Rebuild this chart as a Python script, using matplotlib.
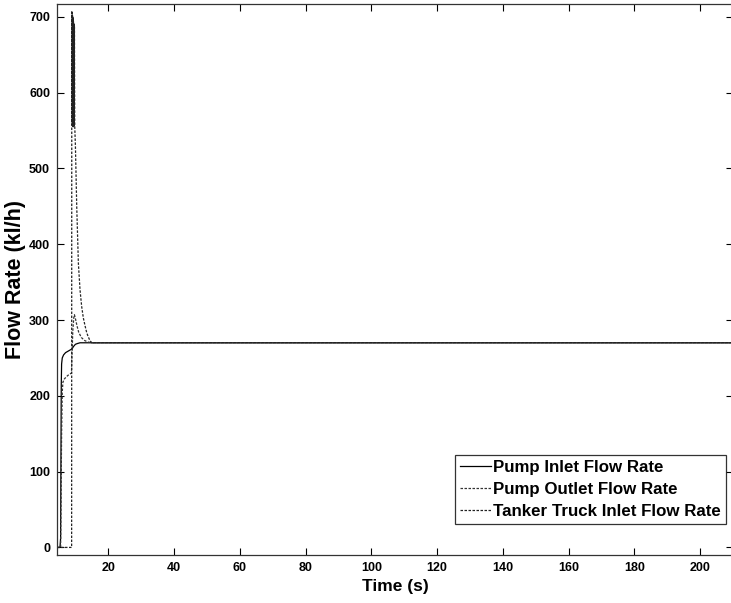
import matplotlib
matplotlib.use("Agg")
import matplotlib.pyplot as plt

plt.rcParams['font.family'] = ['Liberation Sans', 'DejaVu Sans']
plt.rcParams['font.weight'] = 'bold'

# Pump inlet flow rate (solid)
t_inlet = [4.4, 5.3, 5.5, 5.6, 5.7, 5.8, 6.0, 6.4, 7.0, 7.8, 8.6, 9.0, 9.4, 10.0, 10.6, 11.4, 12.5, 210.0]
q_inlet = [0, 0, 12, 120, 215, 242, 250, 254, 257, 259, 261, 262, 265, 268, 269, 270, 270, 270]

# Pump outlet flow rate (dashed)
t_outlet = [4.4, 5.5, 5.8, 6.0, 6.2, 6.6, 7.2, 8.0, 8.8, 8.9, 9.2, 9.5, 9.7, 10.0, 10.5, 11.0, 11.8, 12.8, 13.8, 15.0, 210.0]
q_outlet = [0, 0, 150, 205, 218, 222, 225, 228, 230, 245, 285, 303, 307, 302, 292, 284, 277, 273, 271, 270, 270]

# Tanker truck inlet flow rate (dashed), oscillating right after the valve opens
t_tanker = [4.4, 8.85, 8.9, 8.95, 9.0, 9.05, 9.1, 9.15, 9.2, 9.25, 9.3, 9.35, 9.4, 9.45, 9.5,
            9.55, 9.6, 9.65, 9.7, 9.8, 10.0, 10.4, 10.9, 11.4, 11.9, 12.4, 12.9, 13.4, 13.8, 14.4, 15.0, 210.0]
q_tanker = [0, 0, 708, 560, 705, 558, 702, 556, 700, 557, 698, 555, 695, 556, 692, 555, 690, 556, 688, 555,
            530, 450, 375, 340, 318, 303, 293, 284, 279, 273, 270, 270]

x_ticks = [20, 40, 60, 80, 100, 120, 140, 160, 180, 200]
y_ticks = [0, 100, 200, 300, 400, 500, 600, 700]

fig = plt.figure(figsize=(7.31, 6.03), dpi=100)
ax = fig.add_axes([57 / 731, 48 / 603, 676 / 731, 551 / 603])

ax.plot(t_inlet, q_inlet, color='black', lw=0.9, label='Pump Inlet Flow Rate')
ax.plot(t_outlet, q_outlet, color='#333333', lw=0.9, dashes=(2, 1.2), label='Pump Outlet Flow Rate')
ax.plot(t_tanker, q_tanker, color='#222222', lw=0.9, dashes=(2, 1.2), label='Tanker Truck Inlet Flow Rate')

ax.set_xlim(4.4, 210)
ax.set_ylim(-10, 717)
ax.set_xticks(x_ticks)
ax.set_yticks(y_ticks)
ax.tick_params(direction='in', length=5, width=0.8, top=True, right=True, labelsize=9, pad=5)
for lab in ax.get_xticklabels() + ax.get_yticklabels():
    lab.set_fontweight('bold')
for sp in ax.spines.values():
    sp.set_linewidth(0.9)
    sp.set_color('#333333')

ax.set_xlabel('Time (s)', fontsize=12.5, fontweight='bold', labelpad=4)
ax.set_ylabel('Flow Rate (kl/h)', fontsize=15.5, fontweight='bold')
ax.yaxis.set_label_coords(-0.046, 0.5)

leg = ax.legend(loc='lower right', prop={'size': 12.2, 'weight': 'bold'}, frameon=True, fancybox=False,
                handlelength=1.8, handletextpad=0.15, borderpad=0.3, labelspacing=0.42, borderaxespad=0)
leg.get_frame().set_edgecolor('black')
leg.get_frame().set_linewidth(0.9)
# legend box corner in axes fractions
leg.set_bbox_to_anchor(((726 - 57) / 676, (603 - 524 - 48) / 551), transform=ax.transAxes)

fig.savefig('out.png', dpi=100)
